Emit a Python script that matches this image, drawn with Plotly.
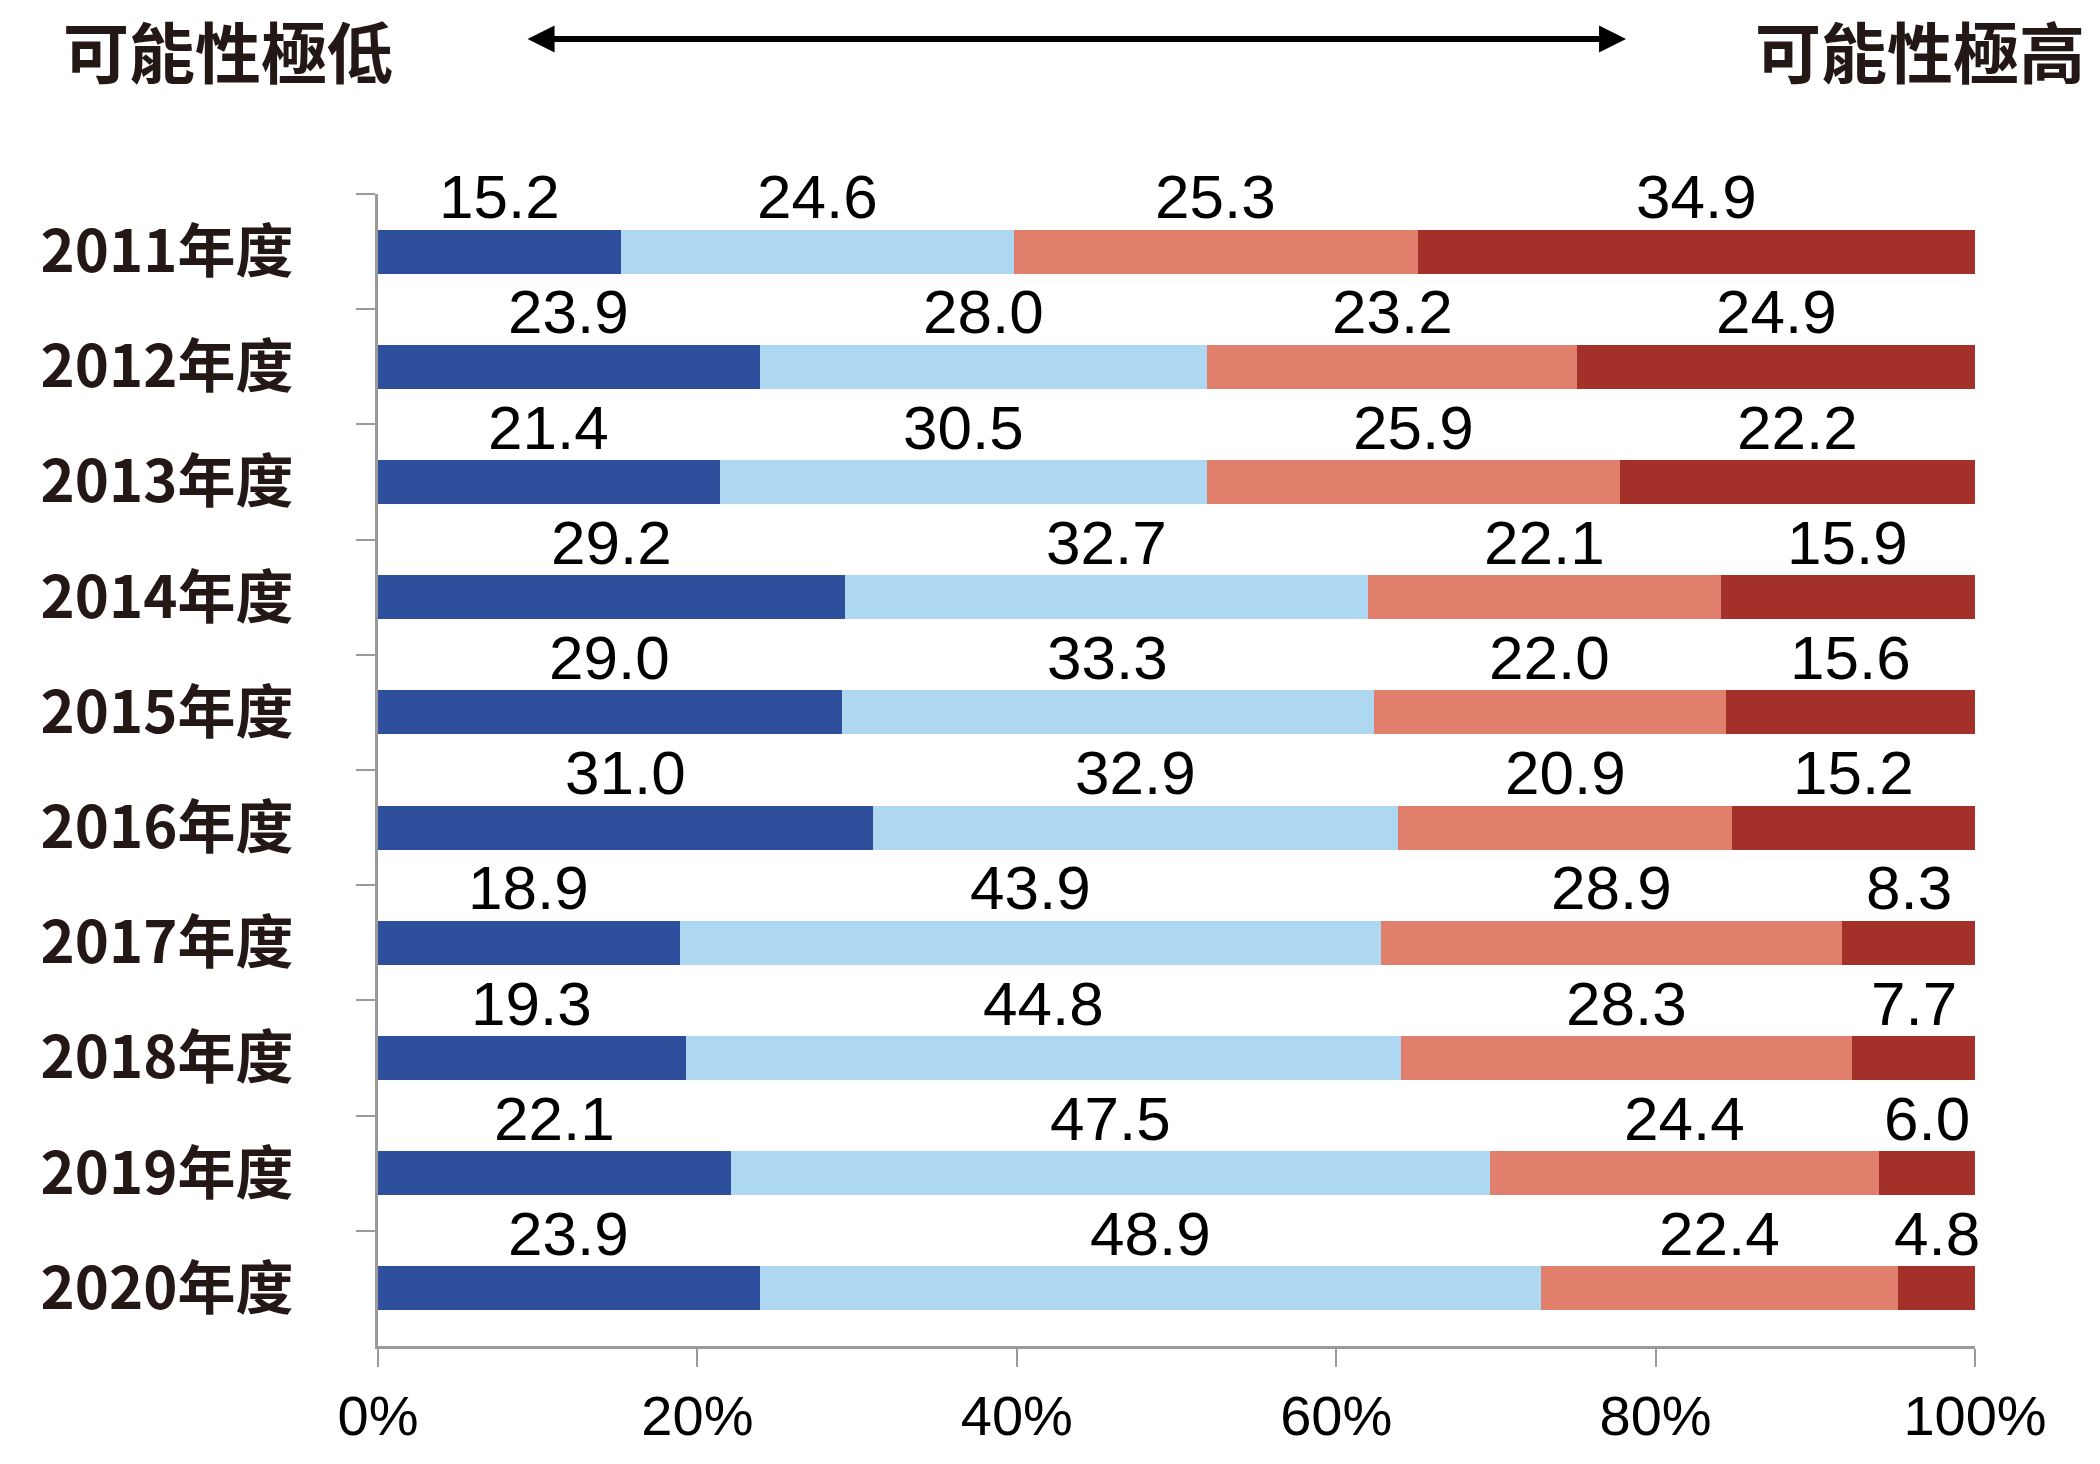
import plotly.graph_objects as go

years = ["2011年度", "2012年度", "2013年度", "2014年度", "2015年度",
         "2016年度", "2017年度", "2018年度", "2019年度", "2020年度"]
very_low = [15.2, 23.9, 21.4, 29.2, 29.0, 31.0, 18.9, 19.3, 22.1, 23.9]
low = [24.6, 28.0, 30.5, 32.7, 33.3, 32.9, 43.9, 44.8, 47.5, 48.9]
high = [25.3, 23.2, 25.9, 22.1, 22.0, 20.9, 28.9, 28.3, 24.4, 22.4]
very_high = [34.9, 24.9, 22.2, 15.9, 15.6, 15.2, 8.3, 7.7, 6.0, 4.8]
series = [very_low, low, high, very_high]
series_names = ["可能性極低", "可能性低", "可能性高", "可能性極高"]
colors = ["#2E4F9C", "#AED8F2", "#E0806C", "#A33129"]

x_tick_vals = [0, 20, 40, 60, 80, 100]
x_tick_text = ["0%", "20%", "40%", "60%", "80%", "100%"]

header_left = "可能性極低"
header_right = "可能性極高"

AXIS_GRAY = "#9A9A9A"
TEXT_DARK = "#231815"
CJK = "Noto Sans CJK TC, Noto Sans CJK SC, sans-serif"
NUM = "Liberation Sans, Arial, sans-serif"

fig = go.Figure()
for name, vals, col in zip(series_names, series, colors):
    fig.add_trace(go.Bar(
        y=years, x=vals, name=name, orientation="h",
        marker=dict(color=col, line=dict(width=0)),
        hoverinfo="x+y+name",
    ))

annotations = []
for i, yr in enumerate(years):
    total = sum(s[i] for s in series)
    cum = 0.0
    for s in series:
        v = s[i]
        xc = (cum + v / 2.0) / total * 100.0
        cum += v
        annotations.append(dict(
            x=xc, y=yr, xref="x", yref="y", text=f"{v:.1f}",
            showarrow=False, yshift=55,
            font=dict(family=NUM, size=62, color="#000000"),
        ))

# header labels
annotations.append(dict(
    x=-0.1986, y=1.126, xref="paper", yref="paper", text=header_left,
    showarrow=False, xanchor="left", yanchor="middle",
    font=dict(family=CJK, size=66, color=TEXT_DARK, weight="bold"),
))
annotations.append(dict(
    x=1.070, y=1.126, xref="paper", yref="paper", text=header_right,
    showarrow=False, xanchor="right", yanchor="middle",
    font=dict(family=CJK, size=66, color=TEXT_DARK, weight="bold"),
))
# double-headed arrow
annotations.append(dict(
    x=0.7815, y=1.1345, xref="paper", yref="paper",
    ax=-1100, ay=0, axref="pixel", ayref="pixel",
    text="", showarrow=True, arrowside="end+start",
    arrowhead=2, arrowsize=0.9, arrowwidth=6, arrowcolor="#000000",
))

fig.update_layout(
    barmode="stack",
    barnorm="percent",
    bargap=0.617,
    width=2100, height=1464,
    margin=dict(l=370, r=133, t=186, b=126, pad=0, autoexpand=False),
    plot_bgcolor="white", paper_bgcolor="white",
    showlegend=False,
    annotations=annotations,
)
fig.update_xaxes(
    range=[0, 100], tickvals=x_tick_vals, ticktext=x_tick_text,
    showgrid=False, zeroline=False, automargin=False,
    showline=True, linecolor=AXIS_GRAY, linewidth=3,
    ticks="outside", ticklen=18, tickwidth=2, tickcolor=AXIS_GRAY,
    ticklabelstandoff=1,
    tickfont=dict(family=NUM, size=56, color="#000000"),
)
fig.update_yaxes(
    type="category",
    categoryorder="array", categoryarray=years,
    range=[len(years) - 0.5, -0.5],
    showgrid=False, zeroline=False, automargin=False,
    showline=True, linecolor=AXIS_GRAY, linewidth=3,
    ticks="outside", ticklen=19, tickwidth=2, tickcolor=AXIS_GRAY,
    tickson="boundaries",
    ticklabelstandoff=70,
    tickfont=dict(family=CJK, size=58, color=TEXT_DARK, weight="bold"),
)

fig.write_html("out.html")
